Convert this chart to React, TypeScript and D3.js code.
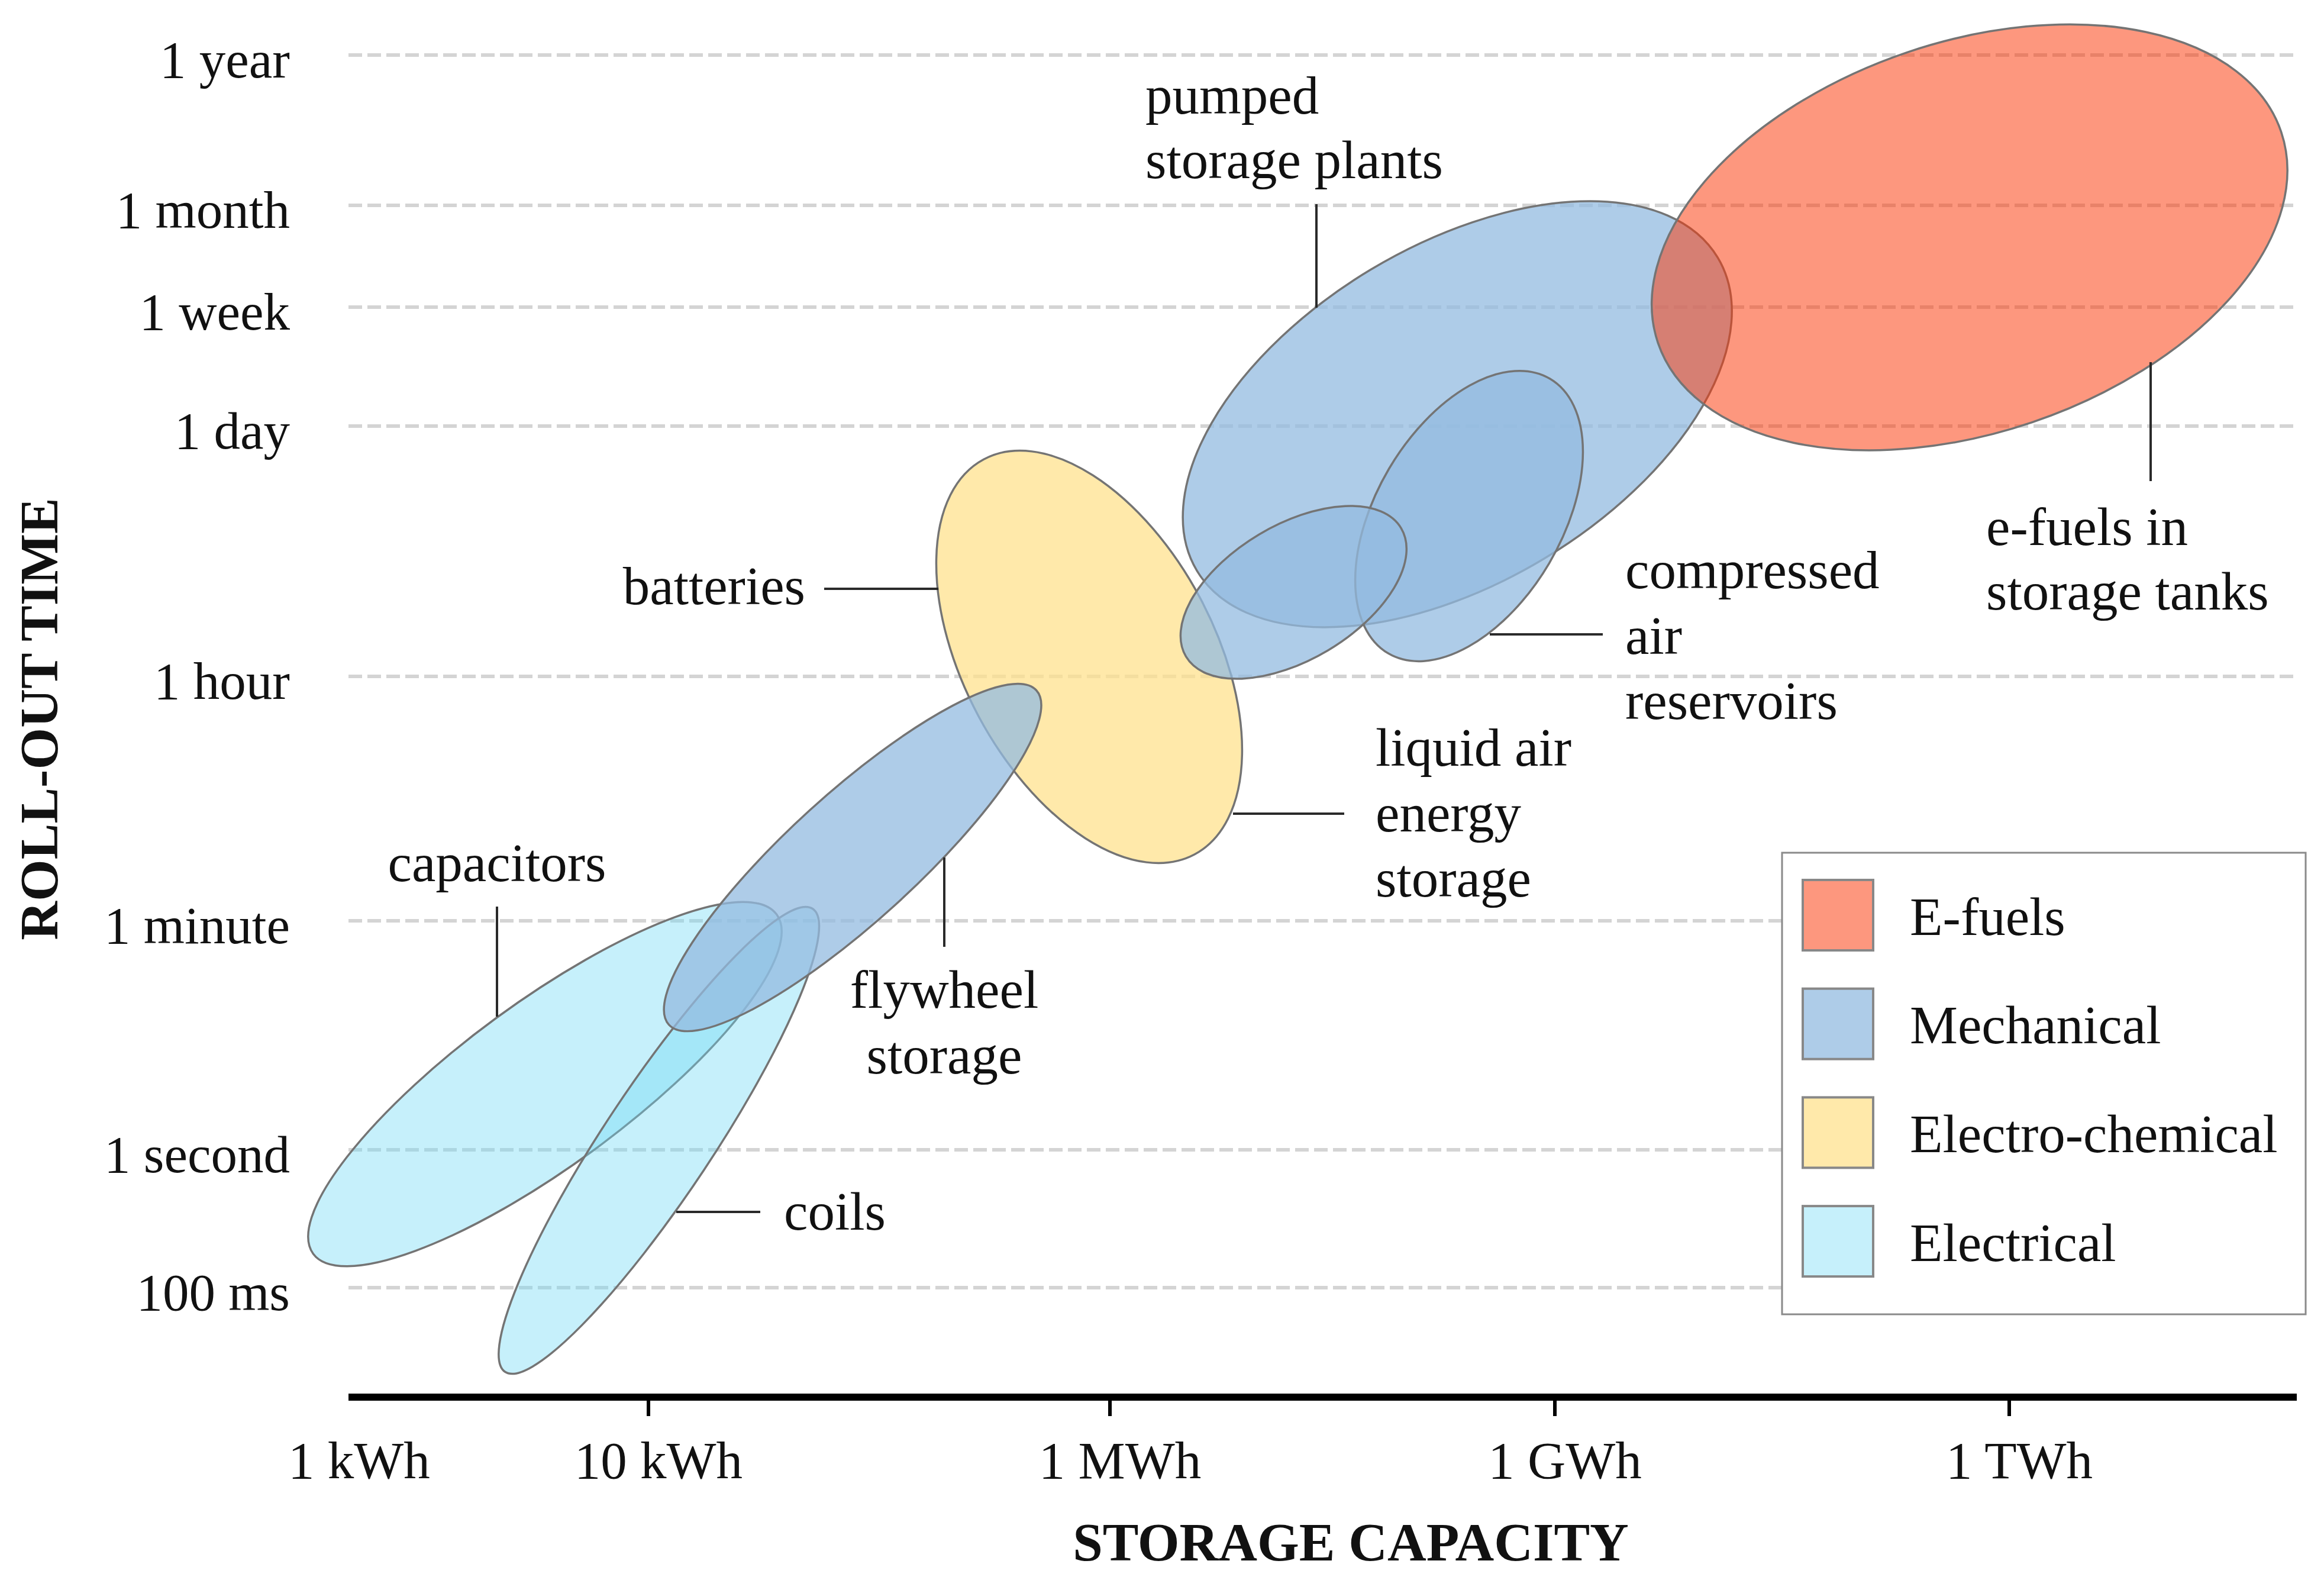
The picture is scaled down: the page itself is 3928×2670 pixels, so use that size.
import React from "react";
import * as d3 from "d3";

// ---------- DATA ----------
const capacityTicks = [1e3, 1e4, 1e6, 1e9, 1e12]; // Wh
const capacityLabels = ["1 kWh", "10 kWh", "1 MWh", "1 GWh", "1 TWh"];
const capacityTickMarks = [false, true, true, true, true];

const timeTicks = [0.1, 1, 60, 3600, 86400, 604800, 2592000, 31536000]; // seconds
const timeLabels = ["100 ms", "1 second", "1 minute", "1 hour", "1 day", "1 week", "1 month", "1 year"];

const categories = ["E-fuels", "Mechanical", "Electro-chemical", "Electrical"];
const categoryColors = ["#fb3808", "#93bbe0", "#ffe28e", "#71d9f5"];
const categoryOpacity = [0.52, 0.75, 0.75, 0.4];

// ellipses: name, category, centre capacity (Wh), centre roll-out time (s),
// semi-axes in decades of capacity, tilt in degrees
const techNames = ["capacitors", "coils", "batteries", "flywheel", "pumped", "compressed", "liquidAir", "efuels"];
const techCategory = [3, 3, 2, 1, 1, 1, 1, 0];
const techCapacity = [4.51e3, 1.11e4, 8.13e5, 7.67e4, 2.2e8, 2.64e8, 1.73e7, 5.47e11];
const techTime = [3.236, 1.184, 4613, 173.3, 1.049e5, 2.757e4, 1.046e4, 1.64e6];
const techMajor = [1.896, 1.835, 1.478, 1.64, 2.006, 1.052, 0.827, 2.172];
const techMinor = [0.542, 0.356, 0.829, 0.421, 1.1125, 0.614, 0.445, 1.289];
const techTilt = [36.2, 56.4, -61.9, 42.3, 31.0, 59.5, 30.8, 18.7];

// ---------- LAYOUT ----------
const W = 3928;
const H = 2670;
const FONT = '"Liberation Serif", "Times New Roman", Times, serif';
const X_RANGE = [590, 1096, 1876, 2628, 3396];
const Y_RANGE = [2176, 1943, 1556, 1143, 720, 519, 347, 93];
const AXIS_Y = 2361;
const AXIS_X0 = 589;
const AXIS_X1 = 3882;

const annotations = [
  { lines: ["pumped", "storage plants"], x: 1936, y: 192, lh: 109, anchor: "start", leader: [2225, 345, 2225, 520] },
  { lines: ["e-fuels in", "storage tanks"], x: 3357, y: 921, lh: 109, anchor: "start", leader: [3635, 612, 3635, 813] },
  { lines: ["compressed", "air", "reservoirs"], x: 2747, y: 994, lh: 110.5, anchor: "start", leader: [2518, 1072, 2709, 1072] },
  { lines: ["liquid air", "energy", "storage"], x: 2325, y: 1294, lh: 110.5, anchor: "start", leader: [2084, 1375, 2272, 1375] },
  { lines: ["batteries"], x: 1361, y: 1021, lh: 110, anchor: "end", leader: [1393, 995, 1586, 995] },
  { lines: ["flywheel", "storage"], x: 1596, y: 1703, lh: 111, anchor: "middle", leader: [1596, 1449, 1596, 1600] },
  { lines: ["capacitors"], x: 840, y: 1489, lh: 110, anchor: "middle", leader: [840, 1532, 840, 1718] },
  { lines: ["coils"], x: 1325, y: 2078, lh: 110, anchor: "start", leader: [1143, 2048, 1285, 2048] },
];

const LEGEND = { x: 3012, y: 1441, w: 885, h: 780, swX: 3047, swY: 1487, sw: 119, step: 183.7, textX: 3228 };

export default function App() {
  const x = d3.scaleLinear().domain(capacityTicks.map(Math.log10)).range(X_RANGE);
  const y = d3.scaleLinear().domain(timeTicks.map(Math.log10)).range(Y_RANGE);
  const unit = (x(12) - x(9)) / 3;

  return (
    <svg
      width={W}
      height={H}
      viewBox={`0 0 ${W} ${H}`}
      style={{ position: "absolute", left: 0, top: 0, display: "block", background: "#fff" }}
      fontFamily={FONT}
    >
      <rect x={0} y={0} width={W} height={H} fill="#fff" />

      {/* grid lines */}
      {timeTicks.map((t, i) => (
        <line
          key={"g" + i}
          x1={AXIS_X0}
          x2={AXIS_X1}
          y1={y(Math.log10(t))}
          y2={y(Math.log10(t))}
          stroke="#d4d4d4"
          strokeWidth={6}
          strokeDasharray="23 9"
        />
      ))}

      {/* y tick labels */}
      {timeTicks.map((t, i) => (
        <text key={"yl" + i} x={490} y={y(Math.log10(t)) + 38} fontSize={89} textAnchor="end" fill="#111">
          {timeLabels[i]}
        </text>
      ))}

      {/* ellipses */}
      {techNames.map((n, i) => {
        const cx = x(Math.log10(techCapacity[i]));
        const cy = y(Math.log10(techTime[i]));
        const c = techCategory[i];
        return (
          <ellipse
            key={n}
            cx={cx}
            cy={cy}
            rx={techMajor[i] * unit}
            ry={techMinor[i] * unit}
            transform={`rotate(${-techTilt[i]} ${cx} ${cy})`}
            fill={categoryColors[c]}
            fillOpacity={categoryOpacity[c]}
            stroke="#747474"
            strokeWidth={3.5}
          />
        );
      })}

      {/* annotations */}
      {annotations.map((a, i) => (
        <g key={"a" + i}>
          <line x1={a.leader[0]} y1={a.leader[1]} x2={a.leader[2]} y2={a.leader[3]} stroke="#2a2a2a" strokeWidth={4} />
          {a.lines.map((l, j) => (
            <text key={j} x={a.x} y={a.y + j * a.lh} fontSize={91} textAnchor={a.anchor} fill="#111">
              {l}
            </text>
          ))}
        </g>
      ))}

      {/* x axis */}
      <line x1={AXIS_X0} x2={AXIS_X1} y1={AXIS_Y} y2={AXIS_Y} stroke="#000" strokeWidth={12} />
      {capacityTicks.map((v, i) =>
        capacityTickMarks[i] ? (
          <line
            key={"xt" + i}
            x1={x(Math.log10(v))}
            x2={x(Math.log10(v))}
            y1={AXIS_Y}
            y2={AXIS_Y + 32}
            stroke="#000"
            strokeWidth={6}
          />
        ) : null
      )}
      {capacityTicks.map((v, i) => (
        <text key={"xl" + i} x={x(Math.log10(v)) + 17} y={2498} fontSize={89} textAnchor="middle" fill="#111">
          {capacityLabels[i]}
        </text>
      ))}

      {/* axis titles */}
      <text x={2283} y={2637} fontSize={91} fontWeight="bold" textAnchor="middle" fill="#111">
        STORAGE CAPACITY
      </text>
      <text
        x={0}
        y={0}
        transform={`translate(97 1215) rotate(-90)`}
        fontSize={91}
        fontWeight="bold"
        textAnchor="middle"
        fill="#111"
      >
        ROLL-OUT TIME
      </text>

      {/* legend */}
      <rect x={LEGEND.x} y={LEGEND.y} width={LEGEND.w} height={LEGEND.h} fill="#fff" stroke="#8a8a8a" strokeWidth={3} />
      {categories.map((c, i) => (
        <g key={"lg" + i}>
          <rect
            x={LEGEND.swX}
            y={LEGEND.swY + i * LEGEND.step}
            width={LEGEND.sw}
            height={LEGEND.sw}
            fill={categoryColors[i]}
            fillOpacity={categoryOpacity[i]}
            stroke="#888"
            strokeWidth={4}
          />
          <text x={LEGEND.textX} y={LEGEND.swY + i * LEGEND.step + LEGEND.sw / 2 + 33} fontSize={91} fill="#111">
            {c}
          </text>
        </g>
      ))}
    </svg>
  );
}
